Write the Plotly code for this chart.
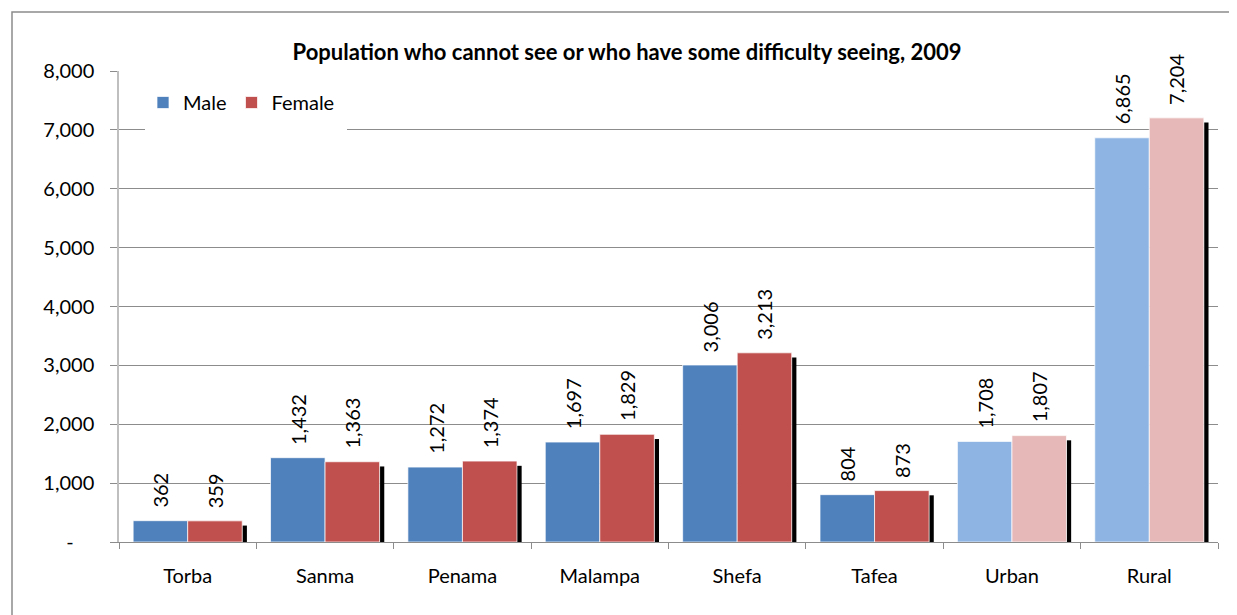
import plotly.graph_objects as go

# Данные
categories = ["Torba", "Sanma", "Penama", "Malampa", "Shefa", "Tafea", "Urban", "Rural"]
male = [362, 1432, 1272, 1697, 3006, 804, 1708, 6865]
female = [359, 1363, 1374, 1829, 3213, 873, 1807, 7204]
y_ticks = [0, 1000, 2000, 3000, 4000, 5000, 6000, 7000, 8000]
y_ticktext = ["-" + "\u00a0" * 4] + [f"{v:,}" for v in y_ticks[1:]]

# Urban / Rural показаны светлыми оттенками
light = {"Urban", "Rural"}
male_colors = ["#8EB4E3" if c in light else "#4F81BD" for c in categories]
female_colors = ["#E6B9B8" if c in light else "#C0504D" for c in categories]

FONT = "Lato"
BAR_W = 0.397
SHADOW_W = 0.034
SHADOW_DROP = 80  # смещение тени вниз, в единицах оси

# страница сдвигает график на 8px (отступ body)
OFF = 8
W, H = 1237, 615
L, T = 119 - OFF, 71 - OFF
PLOT_W = 1218 - 119
PLOT_H = 542 - 71

fig = go.Figure()

# Тень справа от женского столбца
fig.add_trace(go.Bar(
    x=categories, y=female, base=[-SHADOW_DROP] * len(female),
    offset=BAR_W, width=SHADOW_W,
    marker=dict(color="#000000", line=dict(width=0)),
    showlegend=False, hoverinfo="skip",
))

fig.add_trace(go.Bar(
    x=categories, y=male, name="Male",
    offset=-BAR_W, width=BAR_W,
    marker=dict(color=male_colors, line=dict(color="rgba(255,255,255,0.7)", width=1)),
))

fig.add_trace(go.Bar(
    x=categories, y=female, name="Female",
    offset=0, width=BAR_W,
    marker=dict(color=female_colors, line=dict(color="rgba(255,255,255,0.7)", width=1)),
))

# Подписи значений (повернутые)
annotations = []
for i, (m, f) in enumerate(zip(male, female)):
    for val, dx in ((m, -BAR_W / 2), (f, BAR_W / 2)):
        annotations.append(dict(
            x=i + dx, y=val, xref="x", yref="y",
            text=f"{val:,}", showarrow=False, textangle=-90,
            xanchor="center", yanchor="bottom", yshift=11,
            font=dict(family=FONT, size=20, color="#000000"),
        ))


def px(x):
    return (x - OFF - L) / PLOT_W


def py(y):
    return (T + PLOT_H - (y - OFF)) / PLOT_H


fig.update_layout(
    width=W, height=H,
    margin=dict(l=L, r=W - L - PLOT_W, t=T, b=H - T - PLOT_H),
    paper_bgcolor="white", plot_bgcolor="white",
    barmode="overlay",
    title=dict(
        text="<b>Population who cannot see or who have some difficulty seeing, 2009</b>",
        x=(627 - OFF) / W, xref="container", xanchor="center",
        y=1 - (52 - OFF) / H, yref="container", yanchor="middle",
        font=dict(family=FONT, size=22, color="#000000"),
    ),
    legend=dict(
        orientation="h", x=px(143), y=py(102.5), xanchor="left", yanchor="middle",
        bgcolor="rgba(0,0,0,0)", font=dict(family=FONT, size=20, color="#000000"),
        traceorder="normal",
    ),
    annotations=annotations,
    shapes=[
        # белая подложка легенды поверх сетки
        dict(type="rect", xref="paper", yref="paper",
             x0=px(145), x1=px(347), y0=py(134), y1=py(69),
             fillcolor="white", line=dict(width=0), layer="above"),
        # рамка области диаграммы
        dict(type="rect", xref="paper", yref="paper",
             x0=px(12), x1=1.2, y0=-0.3, y1=py(12),
             fillcolor="rgba(0,0,0,0)", line=dict(color="#8C8C8C", width=1.5),
             layer="above"),
    ],
    showlegend=True,
)

fig.update_xaxes(
    type="category", range=[-0.5, len(categories) - 0.5],
    showline=True, linecolor="#8C8C8C", linewidth=1,
    ticks="outside", tickson="boundaries", ticklen=6, tickcolor="#8C8C8C",
    ticklabelstandoff=16, showgrid=False,
    tickfont=dict(family=FONT, size=20, color="#000000"),
)

fig.update_yaxes(
    range=[0, 8000], tickvals=y_ticks, ticktext=y_ticktext,
    showgrid=True, gridcolor="#8C8C8C", gridwidth=1,
    showline=True, linecolor="#BFBFBF", linewidth=1.5,
    ticks="outside", ticklen=7, tickcolor="#8C8C8C",
    ticklabelstandoff=12, zeroline=False,
    tickfont=dict(family=FONT, size=20, color="#000000"),
)

fig.write_html("out.html")
